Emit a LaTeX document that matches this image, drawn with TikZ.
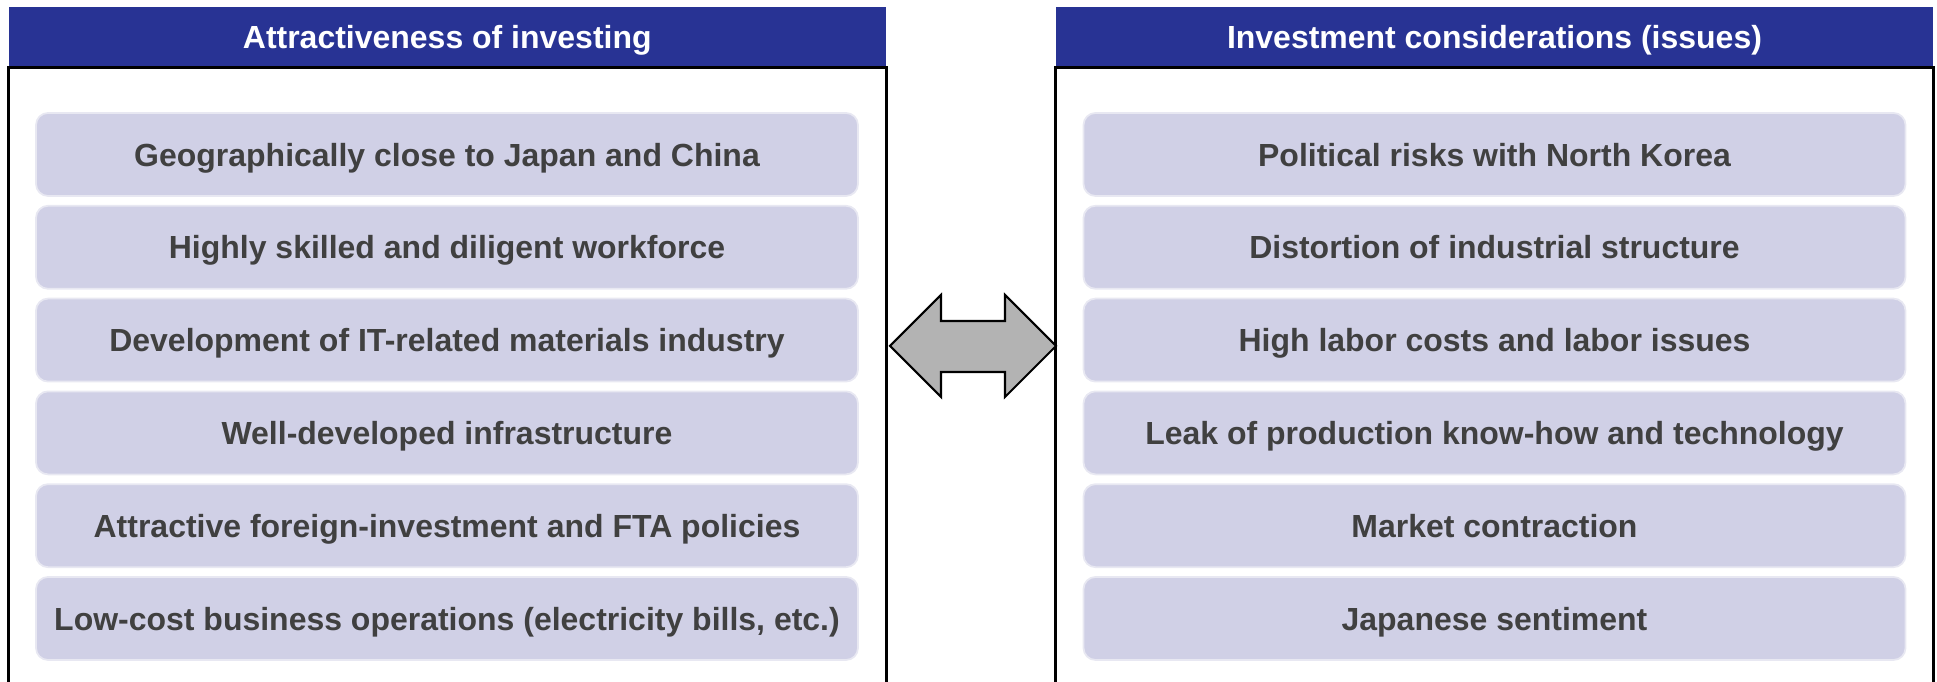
\documentclass[tikz,border=0pt]{standalone}
\usepackage{fontspec}
\setmainfont{Liberation Sans}
\usepackage{tikz}
\usetikzlibrary{calc}
\usetikzlibrary{positioning}

\definecolor{headblue}{RGB}{40,51,148}
\definecolor{itemfill}{RGB}{208,208,230}
\definecolor{itemline}{RGB}{232,232,242}
\definecolor{itemtext}{RGB}{64,64,64}
\definecolor{arrowgray}{RGB}{179,179,179}

\begin{document}
\begin{tikzpicture}[x=0.1mm,y=-0.1mm,
    head/.style={fill=headblue,text=white,font=\fontsize{9.1}{11}\selectfont\bfseries,
      minimum width=87.7mm,minimum height=5.93mm,inner sep=0pt,text depth=0pt},
    item/.style={fill=itemfill,draw=itemline,line width=0.5pt,rounded corners=1.2mm,
      text=itemtext,font=\fontsize{9.1}{11}\selectfont\bfseries,
      minimum width=82.2mm,minimum height=8.3mm,inner sep=0pt,text depth=0pt},
    panel/.style={draw=black,line width=0.8pt}]
    \useasboundingbox (0,0) rectangle (1937,682);
    % headers
    \node[head] (hL) at (447.3,37) {Attractiveness of investing};
    \node[head] (hR) at (1494.5,37) {Investment considerations (issues)};
    % panel frames, open at the bottom
    \draw[panel] ($(hL.south west)+(0,760)$) -- (hL.south west) -- (hL.south east) -- ($(hL.south east)+(0,760)$);
    \draw[panel] ($(hR.south west)+(0,760)$) -- (hR.south west) -- (hR.south east) -- ($(hR.south east)+(0,760)$);
    % left column
    \node[item] (a1) at (447,154.5) {Geographically close to Japan and China};
    \node[item] (a2) at (447,247.3) {Highly skilled and diligent workforce};
    \node[item] (a3) at (447,340.1) {Development of IT-related materials industry};
    \node[item] (a4) at (447,432.9) {Well-developed infrastructure};
    \node[item] (a5) at (447,525.7) {Attractive foreign-investment and FTA policies};
    \node[item] (a6) at (447,618.5) {Low-cost business operations (electricity bills, etc.)};
    % right column
    \node[item] (b1) at (1494.5,154.5) {Political risks with North Korea};
    \node[item] (b2) at (1494.5,247.3) {Distortion of industrial structure};
    \node[item] (b3) at (1494.5,340.1) {High labor costs and labor issues};
    \node[item] (b4) at (1494.5,432.9) {Leak of production know-how and technology};
    \node[item] (b5) at (1494.5,525.7) {Market contraction};
    \node[item] (b6) at (1494.5,618.5) {Japanese sentiment};
    % double arrow between the panels
    \draw[fill=arrowgray,line width=0.6pt,line join=miter]
      (890,346) -- (941,295) -- (941,321) -- (1005,321) -- (1005,295) -- (1056,346)
      -- (1005,397) -- (1005,372) -- (941,372) -- (941,397) -- cycle;
  \end{tikzpicture}
\end{document}
